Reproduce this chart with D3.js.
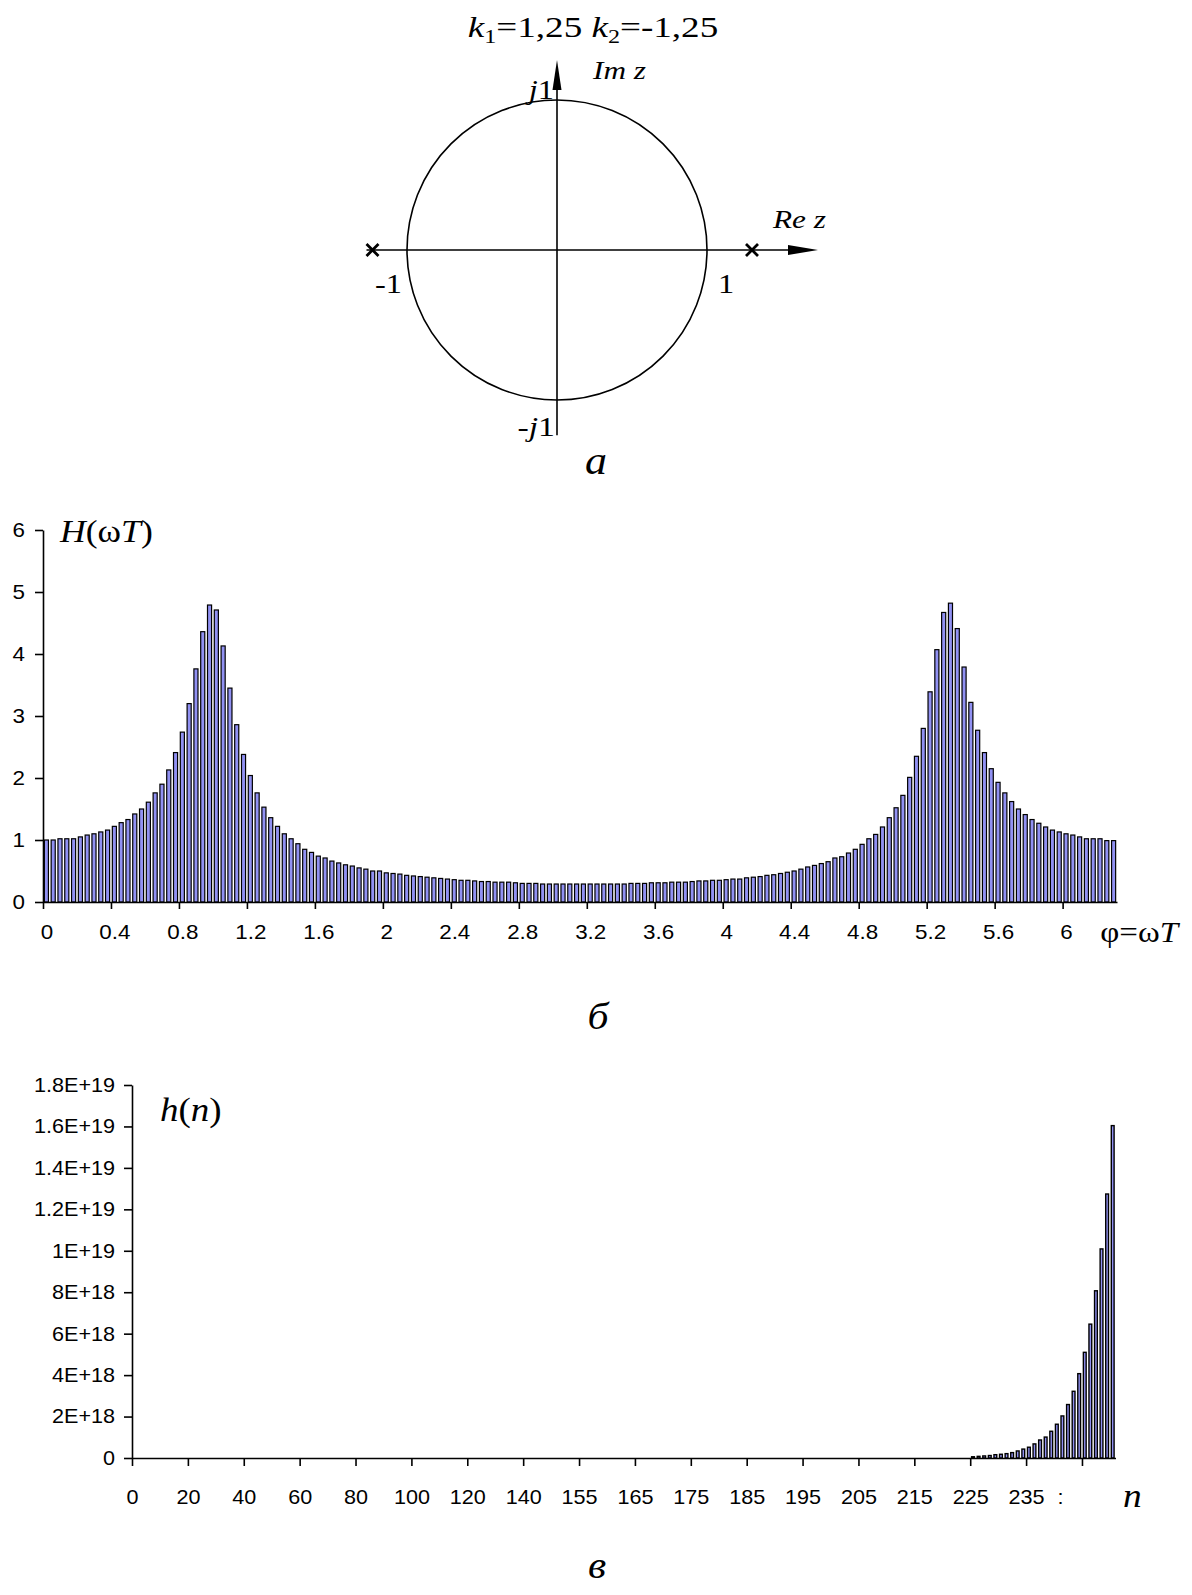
<!DOCTYPE html>
<html>
<head>
<meta charset="utf-8">
<script src="https://cdn.jsdelivr.net/npm/d3@7"></script>
<style>
  body { margin: 0; background: #fff; }
  svg { display: block; }
</style>
</head>
<body>
<svg width="1192" height="1595"></svg>
<script>
// ---- data ----

// a) z-plane: poles (crosses) on the real axis
const poleRe = [-1.23, 1.3];

// b) frequency response H(wT), one bar per 0.04 rad step
const hPhiLabels = ["0", "0.4", "0.8", "1.2", "1.6", "2", "2.4", "2.8", "3.2", "3.6", "4", "4.4", "4.8", "5.2", "5.6", "6"];
const hValues = [
  1.00, 1.00, 1.02, 1.02, 1.02, 1.05, 1.08, 1.10, 1.13, 1.16,
  1.22, 1.28, 1.33, 1.42, 1.50, 1.61, 1.76, 1.90, 2.13, 2.41,
  2.74, 3.20, 3.76, 4.36, 4.79, 4.71, 4.13, 3.45, 2.86, 2.38,
  2.04, 1.76, 1.53, 1.36, 1.22, 1.10, 1.02, 0.94, 0.85, 0.80,
  0.74, 0.71, 0.66, 0.63, 0.60, 0.58, 0.55, 0.53, 0.50, 0.50,
  0.47, 0.46, 0.45, 0.43, 0.42, 0.41, 0.40, 0.39, 0.38, 0.37,
  0.36, 0.35, 0.35, 0.34, 0.33, 0.33, 0.32, 0.32, 0.32, 0.31,
  0.30, 0.30, 0.30, 0.29, 0.29, 0.29, 0.29, 0.29, 0.29, 0.29,
  0.29, 0.29, 0.29, 0.29, 0.29, 0.29, 0.30, 0.30, 0.30, 0.31,
  0.31, 0.31, 0.32, 0.32, 0.32, 0.33, 0.34, 0.34, 0.35, 0.35,
  0.36, 0.37, 0.37, 0.39, 0.40, 0.41, 0.43, 0.44, 0.46, 0.48,
  0.50, 0.53, 0.565, 0.59, 0.62, 0.65, 0.71, 0.73, 0.79, 0.85,
  0.93, 1.02, 1.09, 1.21, 1.36, 1.52, 1.72, 2.01, 2.35, 2.80,
  3.39, 4.07, 4.67, 4.82, 4.41, 3.79, 3.22, 2.77, 2.41, 2.15,
  1.93, 1.76, 1.62, 1.50, 1.41, 1.33, 1.27, 1.21, 1.16, 1.13,
  1.10, 1.08, 1.05, 1.02, 1.02, 1.02, 0.99, 0.99
];
const hTicks = [0, 1, 2, 3, 4, 5, 6];

// c) impulse response h(n): 176 categories, only the last 26 are visible
const hnLabels = ["0", "20", "40", "60", "80", "100", "120", "140", "155", "165", "175", "185", "195", "205", "215", "225", "235", ":"];
const hnTail = [
  0.006e19, 0.008e19, 0.010e19, 0.012e19, 0.016e19, 0.018e19, 0.021e19, 0.026e19, 0.034e19, 0.043e19,
  0.052e19, 0.068e19, 0.087e19, 0.101e19, 0.129e19, 0.163e19, 0.203e19, 0.258e19, 0.322e19, 0.407e19,
  0.510e19, 0.646e19, 0.807e19, 1.009e19, 1.274e19, 1.604e19
];
const hnValues = new Array(150).fill(0).concat(hnTail);
const hnTicks = [0, 2e18, 4e18, 6e18, 8e18, 1e19, 1.2e19, 1.4e19, 1.6e19, 1.8e19];
const hnTickLabels = ["0", "2E+18", "4E+18", "6E+18", "8E+18", "1E+19", "1.2E+19", "1.4E+19", "1.6E+19", "1.8E+19"];

// ---- helpers ----
const svg = d3.select("svg");
const SERIF = "'Liberation Serif', 'Times New Roman', serif";
const SANS = "'Liberation Sans', Arial, sans-serif";
const barFill = "#9191f2";

// text made of parts [{t, i (italic), sub}], stretched horizontally like the original
function label(x, y, parts, size, anchor, sx) {
  const g = svg.append("g").attr("transform", `translate(${x},${y})`);
  const text = g.append("text")
    .attr("transform", `scale(${sx},1)`)
    .attr("text-anchor", anchor)
    .style("font-family", SERIF)
    .style("font-size", size + "px");
  let shifted = false;
  parts.forEach(p => {
    const ts = text.append("tspan").text(p.t);
    if (p.i) ts.style("font-style", "italic");
    if (p.sub) {
      ts.style("font-size", (size * 0.65) + "px").attr("dy", size * 0.22);
      shifted = true;
    } else if (shifted) {
      ts.attr("dy", -size * 0.22);
      shifted = false;
    }
  });
  return text;
}

function styleAxis(g, sx) {
  g.select(".domain").attr("stroke", "#000").attr("stroke-width", 1.6);
  g.selectAll(".tick line").attr("stroke", "#000").attr("stroke-width", 1.6);
  g.selectAll(".tick text")
    .style("font-family", SANS)
    .style("font-size", "20px")
    .attr("fill", "#000")
    .each(function () {
      const t = d3.select(this);
      t.attr("x", (+t.attr("x") || 0) / sx).attr("transform", `scale(${sx},1)`);
    });
}

// ---- a) z-plane ----
const zx = d3.scaleLinear().domain([-1, 1]).range([407, 707]);
const zy = d3.scaleLinear().domain([-1, 1]).range([400, 100]);

svg.append("circle")
  .attr("cx", zx(0)).attr("cy", zy(0))
  .attr("r", zx(1) - zx(0))
  .attr("fill", "none").attr("stroke", "#000").attr("stroke-width", 1.6);

// real axis with arrow
svg.append("line")
  .attr("x1", zx(-1.27)).attr("x2", zx(1.62))
  .attr("y1", zy(0)).attr("y2", zy(0))
  .attr("stroke", "#000").attr("stroke-width", 1.6);
svg.append("path")
  .attr("d", `M${zx(1.74)},${zy(0)}L${zx(1.54)},${zy(0) - 5}L${zx(1.54)},${zy(0) + 5}Z`)
  .attr("fill", "#000");

// imaginary axis with arrow
svg.append("line")
  .attr("x1", zx(0)).attr("x2", zx(0))
  .attr("y1", zy(-1.235)).attr("y2", zy(1.15))
  .attr("stroke", "#000").attr("stroke-width", 1.6);
svg.append("path")
  .attr("d", `M${zx(0)},${zy(1.267)}L${zx(0) - 4.5},${zy(1.067)}L${zx(0) + 4.5},${zy(1.067)}Z`)
  .attr("fill", "#000");

// poles
poleRe.forEach(p => {
  const cx = zx(p), cy = zy(0), s = 6;
  svg.append("path")
    .attr("d", `M${cx - s},${cy - s}L${cx + s},${cy + s}M${cx - s},${cy + s}L${cx + s},${cy - s}`)
    .attr("stroke", "#000").attr("stroke-width", 2.8);
});

label(593, 37, [{t: "k", i: true}, {t: "1", sub: true}, {t: "=1,25 "}, {t: "k", i: true}, {t: "2", sub: true}, {t: "=-1,25"}], 29, "middle", 1.28);
label(593, 79, [{t: "Im z", i: true}], 25, "start", 1.25);
label(554, 99, [{t: "j", i: true}, {t: "1"}], 27, "end", 1.2);
label(773, 228, [{t: "Re z", i: true}], 25, "start", 1.25);
label(375, 293, [{t: "-1"}], 27, "start", 1.2);
label(718, 293, [{t: "1"}], 27, "start", 1.2);
label(555, 436, [{t: "-"}, {t: "j", i: true}, {t: "1"}], 27, "end", 1.25);
label(596, 474, [{t: "а", i: true}], 40, "middle", 1.1);

// ---- b) H(wT) ----
const hLeft = 43, hRight = 1117, hBase = 902, hTop = 530;
const hX = d3.scaleBand()
  .domain(d3.range(hValues.length))
  .range([hLeft, hRight])
  .paddingInner(0.4).paddingOuter(0.2);
const hIdx = d3.scaleLinear().domain([0, hValues.length]).range([hLeft, hRight]);
const hY = d3.scaleLinear().domain([0, 6]).range([hBase, hTop]);

svg.append("g").selectAll("rect")
  .data(hValues)
  .join("rect")
  .attr("x", (d, i) => hX(i))
  .attr("width", hX.bandwidth())
  .attr("y", d => hY(d))
  .attr("height", d => hY(0) - hY(d))
  .attr("fill", barFill)
  .attr("stroke", "#000")
  .attr("stroke-width", 1.2);

const hxAxis = svg.append("g")
  .attr("transform", `translate(0,${hBase})`)
  .call(d3.axisBottom(hIdx)
    .tickValues(d3.range(0, hValues.length, 10))
    .tickFormat((d, i) => hPhiLabels[i])
    .tickSize(7).tickSizeOuter(0).tickPadding(16));
hxAxis.selectAll(".tick text").attr("x", hX.step() / 2);
styleAxis(hxAxis, 1.12);

const hyAxis = svg.append("g")
  .attr("transform", `translate(${hLeft},0)`)
  .call(d3.axisLeft(hY).tickValues(hTicks).tickFormat(d3.format("d"))
    .tickSize(8).tickSizeOuter(0).tickPadding(10));
styleAxis(hyAxis, 1.12);

label(60, 542, [{t: "H", i: true}, {t: "(ω"}, {t: "T", i: true}, {t: ")"}], 31, "start", 1.15);
label(1178, 942, [{t: "φ=ω"}, {t: "T", i: true}], 30, "end", 1.1);
label(598, 1029, [{t: "б", i: true}], 38, "middle", 1.1);

// ---- c) h(n) ----
const nLeft = 132, nRight = 1115.5, nBase = 1458, nTop = 1085;
const nX = d3.scaleBand()
  .domain(d3.range(hnValues.length))
  .range([nLeft, nRight])
  .paddingInner(0.5).paddingOuter(0.25);
const nIdx = d3.scaleLinear().domain([0, hnValues.length]).range([nLeft, nRight]);
const nY = d3.scaleLinear().domain([0, 1.8e19]).range([nBase, nTop]);

svg.append("g").selectAll("rect")
  .data(hnValues.map((v, i) => ({v, i})).filter(d => d.v > 0))
  .join("rect")
  .attr("x", d => nX(d.i))
  .attr("width", nX.bandwidth())
  .attr("y", d => nY(d.v))
  .attr("height", d => nY(0) - nY(d.v))
  .attr("fill", barFill)
  .attr("stroke", "#000")
  .attr("stroke-width", 1.4);

const nxAxis = svg.append("g")
  .attr("transform", `translate(0,${nBase})`)
  .call(d3.axisBottom(nIdx)
    .tickValues(d3.range(0, 171, 10))
    .tickFormat((d, i) => hnLabels[i])
    .tickSize(8).tickSizeOuter(0).tickPadding(24));
// the last label is cut in the original, only a fragment left of its tick shows
nxAxis.selectAll(".tick text").filter((d, i) => i === hnLabels.length - 1).attr("x", -22);
styleAxis(nxAxis, 1.08);

const nyAxis = svg.append("g")
  .attr("transform", `translate(${nLeft},0)`)
  .call(d3.axisLeft(nY).tickValues(hnTicks).tickFormat((d, i) => hnTickLabels[i])
    .tickSize(8).tickSizeOuter(0).tickPadding(9));
styleAxis(nyAxis, 1.08);

label(160, 1121, [{t: "h", i: true}, {t: "("}, {t: "n", i: true}, {t: ")"}], 33, "start", 1.12);
label(1123, 1507, [{t: "n", i: true}], 34, "start", 1.1);
label(597, 1578, [{t: "в", i: true}], 38, "middle", 1.1);
</script>
</body>
</html>
